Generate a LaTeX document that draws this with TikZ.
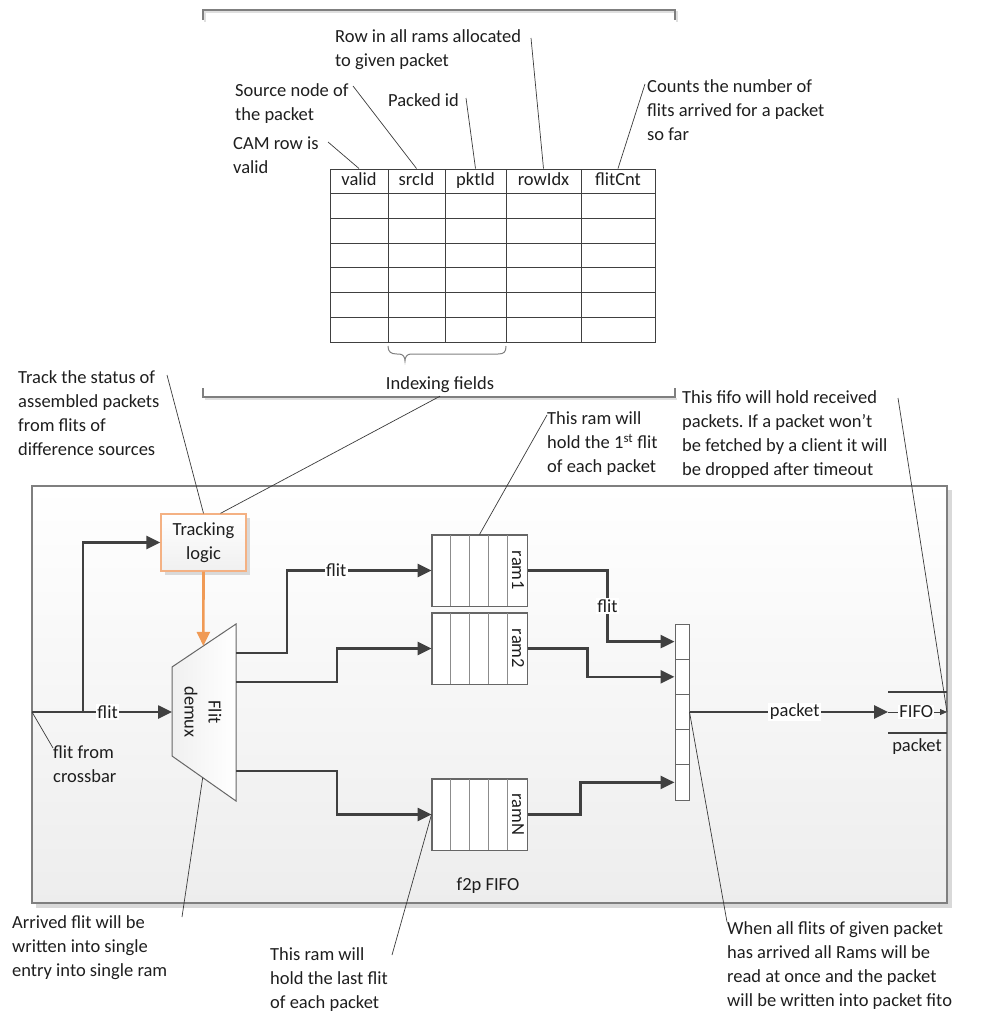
\documentclass[tikz,border=0pt]{standalone}
\usepackage{fontspec}
\setmainfont{Carlito}
\usetikzlibrary{arrows.meta,calc}
\definecolor{txt}{HTML}{1E1E1E}
\definecolor{wire}{HTML}{404040}
\definecolor{thinc}{HTML}{3A3A3A}
\definecolor{brk}{HTML}{7F7F7F}
\definecolor{orangeB}{HTML}{F4B183}
\definecolor{orangeA}{HTML}{F09A55}
\frenchspacing
\begin{document}
\begin{tikzpicture}[x=1pt,y=-1pt,
 every node/.style={font=\fontsize{18.5}{24}\selectfont, inner sep=0pt, text=txt},
 conn/.style={draw=wire, line width=2.6pt, -{Triangle[length=14pt,width=13pt]}},
 callout/.style={draw=thinc, line width=0.7pt},
 lbl/.style={fill=white, inner sep=1.5pt},
 note/.style={align=left, anchor=west},
 bracketline/.style={draw=brk, line width=1.2pt},
 gridline/.style={draw=wire, line width=1pt},
 hcell/.style={draw=wire, line width=1pt, minimum height=24pt, text height=12.5pt, text depth=3.5pt},
 ramblk/.style={draw=black!60, fill=white, line width=1pt, minimum width=95pt, minimum height=71pt},
 colcell/.style={draw=black!60, fill=white, line width=1pt, minimum width=14pt, minimum height=35.2pt},
]
\useasboundingbox (0,0) rectangle (980,1020);

% ---------- CAM table ----------
\node[hcell, minimum width=58pt] (valid) at (359,181) {valid};
\node[hcell, minimum width=57pt] (srcId) at (416.5,181) {srcId};
\node[hcell, minimum width=61pt] (pktId) at (475.5,181) {pktId};
\node[hcell, minimum width=75pt] (rowIdx) at (543.5,181) {rowIdx};
\node[hcell, minimum width=74pt] (flitCnt) at (618,181) {flitCnt};
\draw[gridline] (330,193) rectangle (655,342);
\foreach \yy in {218,243,267,292,317} \draw[gridline] (330,\yy) -- (655,\yy);
\foreach \xx in {388,445,506,581} \draw[gridline] (\xx,193) -- (\xx,342);

% brace under srcId..pktId
\draw[draw=brk, line width=1pt] (388,346) .. controls (388,352) and (391,354) .. (397,354)
  -- (399,354) .. controls (403,354) and (405,357) .. (405,361)
  .. controls (405,357) and (407,354) .. (411,354) -- (498,354)
  .. controls (504,354) and (506,352) .. (506,346);

% top and bottom brackets
\draw[gray!25, line width=1.2pt] (205,22) -- (205,12) -- (677,12) -- (677,22);
\draw[bracketline] (203,20) -- (203,10) -- (675,10) -- (675,20);
\draw[gray!25, line width=1.2pt] (205,399) -- (677,399);
\draw[bracketline] (203,388) -- (203,397) -- (675,397) -- (675,388);
\node[fill=white, inner sep=3pt] (idx) at (440,385) {Indexing fields};

% ---------- top callouts ----------
\node[note] (cam) at (233,155) {CAM row is\\valid};
\node[note] (src) at (235,104) {Source node of\\the packet};
\node[note] (pkt) at (388,100) {Packed id};
\node[note] (row) at (335,50) {Row in all rams allocated\\to given packet};
\node[note] (cnt) at (647,110) {Counts the number of\\flits arrived for a packet\\so far};
\coordinate (camP) at (328,142);
\coordinate (srcP) at (353,86);
\coordinate (pktP) at (466,98);
\coordinate (rowP) at (531,38);
\coordinate (cntP) at (645,84);
\draw[callout] (camP) -- (valid.north);
\draw[callout] (srcP) -- (srcId.north);
\draw[callout] (pktP) -- (pktId.north);
\draw[callout] (rowP) -- (rowIdx.north);
\draw[callout] (cntP) -- (flitCnt.north);

% ---------- f2p FIFO container ----------
\fill[gray!30] (36,490) rectangle (952,908);
\node[draw=brk, line width=1.5pt, top color=white, bottom color=gray!14,
      minimum width=915pt, minimum height=417pt] (f2p) at (489.5,694.5) {};
\node (f2pl) at (488,886) {f2p FIFO};

% Tracking logic
\fill[gray!30] (165,518) rectangle (250,575);
\node[draw=orangeB, line width=1.3pt, top color=white, bottom color=gray!12,
      minimum width=85pt, minimum height=57pt, align=center] (tl) at (203.5,542.5) {Tracking\\logic};

% Demux trapezoid
\coordinate (dTR) at (236,624);
\coordinate (dBR) at (236,801);
\coordinate (dTL) at (172,667);
\coordinate (dBL) at (172,756);
\coordinate (dL) at (172,712);
\draw[draw=black!60, line width=1pt, left color=gray!12, right color=white]
  (dTL) -- (dTR) -- (dBR) -- (dBL) -- cycle;
\node[rotate=-90, align=center] (dmx) at (203,712) {Flit\\demux};

% RAMs
\node[ramblk] (ram1) at (479.5,570.5) {};
\node[ramblk] (ram2) at (479.5,648.5) {};
\node[ramblk] (ramN) at (479.5,814.5) {};
\foreach \r in {ram1,ram2,ramN}{
  \foreach \i in {1,2,3,4}
    \draw[draw=black!45, line width=1pt] ($(\r.north west)+(19*\i,0)$) -- ($(\r.south west)+(19*\i,0)$);
  \draw[draw=black!60, line width=1pt] (\r.north west) rectangle (\r.south east);
}
\node[rotate=-90] (l1) at (518,570.5) {ram1};
\node[rotate=-90] (l2) at (518,648.5) {ram2};
\node[rotate=-90] (lN) at (518,814.5) {ramN};

% collector register
\node[colcell] (c1) at (682,641.6) {};
\node[colcell] (c2) at (682,676.8) {};
\node[colcell] (c3) at (682,712) {};
\node[colcell] (c4) at (682,747.2) {};
\node[colcell] (c5) at (682,782.4) {};

% ---------- connectors ----------
\coordinate (inL) at (32,712);
\coordinate (br) at (83,712);
\draw[conn] (inL) -- node[lbl, pos=0.54] {flit} (dL);
\draw[conn] (br) |- (tl.west);
\draw[draw=orangeA, line width=2.6pt, -{Triangle[length=14pt,width=13pt]}]
  (tl.south) -- ($(dTL)!0.49!(dTR)$);

\coordinate (o1) at (236,653);
\coordinate (o2) at (236,682);
\coordinate (o3) at (236,771);
\draw[conn] (o1) -- (287,653) |- node[lbl, pos=0.67] {flit} (ram1.west);
\draw[conn] (o2) -- (337,682) |- (ram2.west);
\draw[conn] (o3) -- (337,771) |- (ramN.west);

\draw[conn] (ram1.east) -- ++(80,0) |- node[lbl, pos=0.25] {flit} (c1.west);
\draw[conn] (ram2.east) -- ++(60,0) |- (c2.west);
\draw[conn] (ramN.east) -- ++(53,0) |- (c5.west);

\coordinate (fifoL) at (888,712);
\coordinate (fifoR) at (947,712);
\draw[conn] (c3.east) -- node[lbl, pos=0.53] {packet} (fifoL);
\draw[draw=wire, line width=2.6pt] (888,692) -- (947,692);
\draw[draw=wire, line width=2.6pt] (888,733) -- (947,733);
\draw[draw=wire, line width=0.8pt, -{Triangle[length=7pt,width=6pt]}] (fifoL) -- node[lbl, inner sep=1pt, pos=0.48] (fifo) {FIFO} (fifoR);
\node (pk2) at (917,747) {packet};

% ---------- lower callouts ----------
\node[note] (track) at (18,413) {Track the status of\\assembled packets\\from flits of\\difference sources};
\coordinate (trackP) at (167,375);
\draw[callout] (trackP) -- (tl.north);
\draw[callout] (idx.south) -- ([xshift=17pt]tl.north);

\node[note] (r1note) at (547,444) {This ram will\\hold the 1\textsuperscript{st} flit\\of each packet};
\coordinate (r1P) at (547,415);
\draw[callout] (r1P) -- (ram1.north);

\node[note] (fifonote) at (682,435) {This fifo will hold received\\packets. If a packet won’t\\be fetched by a client it will\\be dropped after timeout};
\coordinate (fifoP) at (898,398);
\draw[callout] (fifoP) -- (fifoR);

\node[note] (xbar) at (53,764) {flit from\\crossbar};
\coordinate (xbarP) at (53,748);
\draw[callout] (xbarP) -- (inL);

\node[note] (arrived) at (12,948) {Arrived flit will be\\written into single\\entry into single ram};
\coordinate (arrP) at (182,917);
\draw[callout] (arrP) -- ($(dBL)!0.48!(dBR)$);

\node[note] (lastnote) at (270,980) {This ram will\\hold the last flit\\of each packet};
\coordinate (lastP) at (392,955);
\draw[callout] (lastP) -- (ramN.west);

\node[note] (when) at (727,966) {When all flits of given packet\\has arrived all Rams will be\\read at once and the packet\\will be written into packet fito};
\coordinate (whenP) at (727,922);
\draw[callout] (c3.east) -- (whenP);
\end{tikzpicture}
\end{document}
